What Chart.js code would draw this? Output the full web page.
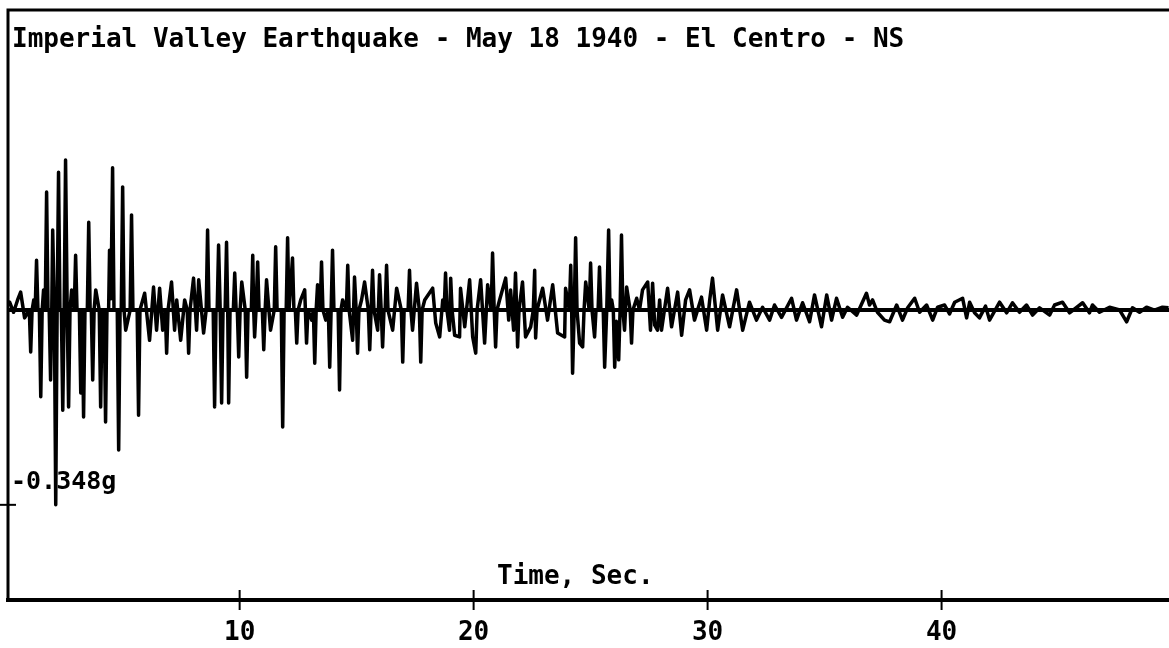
<!DOCTYPE html>
<html>
<head>
<meta charset="utf-8">
<script src="https://cdn.jsdelivr.net/npm/chart.js@4/dist/chart.umd.min.js"></script>
<style>
  html, body { margin: 0; padding: 0; background: #fff; }
  #wrap { width: 1169px; height: 648px; }
</style>
</head>
<body>
<div id="wrap"><canvas id="quake" width="1169" height="648"></canvas></div>
<script>
// Başlık ve eksen yazıları
const chartTitle = "Imperial Valley Earthquake - May 18 1940 - El Centro - NS";
const xAxisTitle = "Time, Sec.";
const xTickValues = [10, 20, 30, 40];
const yMarkValue = -0.348;
const yMarkLabel = "-0.348g";

// Zaman (s) - resimden okunan tepe noktaları ve sıfıra dönüşler
const timeSec = [
  0.00, 0.17, 0.34, 0.51, 0.64, 0.81, 1.01, 1.07,
  1.13, 1.20, 1.26, 1.32, 1.38, 1.44, 1.50, 1.56,
  1.62, 1.69, 1.75, 1.81, 1.86, 1.92, 1.97, 2.01,
  2.08, 2.14, 2.20, 2.26, 2.32, 2.38, 2.44, 2.50,
  2.56, 2.63, 2.69, 2.75, 2.82, 2.93, 2.99, 3.05,
  3.15, 3.21, 3.27, 3.33, 3.39, 3.49, 3.55, 3.61,
  3.66, 3.72, 3.78, 3.85, 4.00, 4.06, 4.12, 4.21,
  4.27, 4.33, 4.40, 4.44, 4.50, 4.57, 4.63, 4.77,
  4.83, 4.89, 4.94, 5.00, 5.06, 5.13, 5.32, 5.38,
  5.44, 5.62, 5.68, 5.74, 5.94, 6.15, 6.32, 6.45,
  6.58, 6.71, 6.82, 6.88, 6.94, 7.09, 7.22, 7.31,
  7.48, 7.65, 7.76, 7.82, 7.88, 8.03, 8.16, 8.25,
  8.46, 8.57, 8.63, 8.69, 8.87, 8.93, 8.99, 9.04,
  9.10, 9.17, 9.23, 9.29, 9.38, 9.44, 9.49, 9.53,
  9.59, 9.73, 9.79, 9.85, 9.90, 9.96, 10.02, 10.09,
  10.24, 10.30, 10.36, 10.50, 10.56, 10.60, 10.64, 10.70,
  10.77, 10.83, 10.97, 11.03, 11.09, 11.15, 11.32, 11.48,
  11.54, 11.60, 11.78, 11.84, 11.90, 11.99, 12.05, 12.11,
  12.26, 12.32, 12.38, 12.44, 12.50, 12.61, 12.78, 12.86,
  12.92, 13.08, 13.15, 13.21, 13.27, 13.33, 13.44, 13.50,
  13.56, 13.68, 13.79, 13.85, 13.91, 13.97, 14.03, 14.21,
  14.27, 14.33, 14.40, 14.56, 14.62, 14.68, 14.83, 14.87,
  14.91, 14.98, 15.04, 15.10, 15.21, 15.34, 15.50, 15.56,
  15.62, 15.68, 15.74, 15.90, 15.98, 16.05, 16.11, 16.17,
  16.22, 16.28, 16.34, 16.54, 16.71, 16.91, 16.97, 17.03,
  17.20, 17.26, 17.32, 17.39, 17.56, 17.68, 17.74, 17.80,
  17.91, 18.25, 18.38, 18.55, 18.68, 18.74, 18.80, 18.86,
  18.97, 19.02, 19.08, 19.19, 19.40, 19.44, 19.62, 19.83,
  19.96, 20.09, 20.15, 20.30, 20.47, 20.60, 20.75, 20.81,
  20.88, 20.94, 21.00, 21.11, 21.37, 21.50, 21.58, 21.71,
  21.79, 21.84, 21.88, 21.94, 22.09, 22.22, 22.44, 22.55,
  22.61, 22.63, 22.65, 22.71, 22.95, 23.16, 23.38, 23.59,
  23.89, 23.93, 24.09, 24.15, 24.19, 24.23, 24.30, 24.36,
  24.42, 24.53, 24.66, 24.72, 24.79, 24.94, 25.00, 25.06,
  25.17, 25.23, 25.32, 25.38, 25.44, 25.54, 25.60, 25.69,
  25.77, 25.83, 25.90, 25.97, 26.03, 26.10, 26.20, 26.26,
  26.32, 26.38, 26.45, 26.54, 26.69, 26.75, 26.81, 26.97,
  27.09, 27.22, 27.44, 27.56, 27.65, 27.74, 27.86, 27.95,
  28.03, 28.29, 28.46, 28.72, 28.89, 29.06, 29.23, 29.44,
  29.74, 29.96, 30.09, 30.21, 30.43, 30.64, 30.94, 31.24,
  31.50, 31.79, 32.09, 32.35, 32.65, 32.86, 33.16, 33.59,
  33.80, 34.06, 34.36, 34.57, 34.87, 35.09, 35.30, 35.51,
  35.77, 35.98, 36.37, 36.79, 36.92, 37.05, 37.26, 37.56,
  37.78, 38.08, 38.33, 38.55, 38.85, 39.06, 39.36, 39.62,
  39.83, 40.13, 40.34, 40.56, 40.90, 41.07, 41.20, 41.41,
  41.62, 41.88, 42.05, 42.48, 42.78, 43.03, 43.33, 43.63,
  43.89, 44.19, 44.62, 44.83, 45.17, 45.47, 46.03, 46.32,
  46.45, 46.75, 47.18, 47.61, 47.91, 48.16, 48.46, 48.76,
  49.10, 49.44, 49.70
];

// İvme (g) - her satır yukarıdaki zaman satırıyla eşleşir
const accelG = [
  0.004, 0.014, -0.004, 0.018, 0.032, -0.014, 0, -0.075,
  0, 0.018, 0, 0.089, 0, 0, -0.155, 0,
  0.036, 0, 0.211, 0, 0, -0.125, 0, 0.143,
  0, -0.348, 0, 0.246, 0, 0, -0.179, 0,
  0.268, 0, -0.173, 0, 0.036, 0, 0.098, 0,
  0, -0.148, 0, -0.191, 0, 0, 0.157, 0,
  0, -0.125, 0, 0.036, 0, -0.173, 0, 0,
  -0.200, 0, 0, 0.107, 0.020, 0.254, 0, 0,
  -0.250, 0, 0, 0.220, 0, -0.036, 0, 0.170,
  0, 0, -0.188, 0, 0.030, -0.054, 0.041, -0.036,
  0.039, -0.036, 0, -0.077, 0, 0.050, -0.036, 0.018,
  -0.054, 0.018, 0, -0.077, 0, 0.057, -0.036, 0.054,
  -0.041, 0, 0.143, 0, 0, -0.173, 0, 0,
  0.116, 0, -0.166, 0, 0, 0.121, 0, -0.166,
  0, 0, 0.066, 0, 0, -0.084, 0, 0.050,
  0, -0.120, 0, 0, 0.098, 0, -0.048, 0,
  0.086, 0, 0, -0.071, 0, 0.054, -0.036, 0,
  0.113, 0, 0, -0.209, 0, 0, 0.129, 0,
  0.093, 0, 0, -0.059, 0, 0.018, 0.036, -0.059,
  0, -0.018, 0, -0.095, 0, 0.045, 0, 0.086,
  0, -0.018, 0, -0.102, 0, 0.107, 0, 0,
  -0.143, 0, 0.018, 0, 0.080, 0, -0.054, 0,
  0.059, 0, -0.077, 0, 0.018, 0.050, 0, -0.071,
  0, 0.071, 0, -0.036, 0.063, 0, -0.066, 0,
  0, 0.080, 0, -0.036, 0.039, 0, -0.093, 0,
  0, 0.071, 0, -0.036, 0.048, 0, -0.093, 0,
  0.018, 0.039, -0.023, -0.048, 0.018, 0, 0.066, 0,
  -0.036, 0.057, 0, -0.045, -0.048, 0.039, -0.030, 0.054,
  -0.048, -0.077, 0, 0.054, -0.059, 0.045, 0, 0.102,
  0, -0.066, 0, 0.018, 0.057, -0.018, 0.036, -0.036,
  0.066, 0, -0.066, 0, 0.050, -0.048, -0.030, 0,
  0.071, 0, -0.050, 0, 0.039, -0.018, 0.045, -0.041,
  -0.048, 0.039, 0, 0.080, 0, -0.113, 0, 0.129,
  0, -0.059, -0.066, 0, 0.050, 0, 0.084, 0,
  -0.048, 0, 0, 0.077, 0, 0, -0.102, 0,
  0.143, 0, 0.018, 0, -0.102, -0.020, -0.089, 0,
  0.134, 0, -0.036, 0.041, 0, -0.059, 0, 0.021,
  0.000, 0.036, 0.050, -0.036, 0.048, -0.027, -0.036, 0.018,
  -0.036, 0.039, -0.030, 0.032, -0.045, 0.018, 0.036, -0.018,
  0.023, -0.036, 0.018, 0.057, -0.036, 0.027, -0.030, 0.036,
  -0.036, 0.014, -0.018, 0.005, -0.018, 0.009, -0.013, 0.021,
  -0.018, 0.013, -0.021, 0.027, -0.030, 0.027, -0.018, 0.021,
  -0.013, 0.005, -0.009, 0.030, 0.009, 0.018, -0.004, -0.018,
  -0.021, 0.009, -0.018, 0.004, 0.021, -0.004, 0.009, -0.018,
  0.005, 0.009, -0.007, 0.014, 0.021, -0.014, 0.014, -0.005,
  -0.014, 0.007, -0.018, 0.014, -0.005, 0.013, -0.004, 0.009,
  -0.009, 0.004, -0.009, 0.009, 0.014, -0.005, 0.013, -0.005,
  0.009, -0.004, 0.005, 0.000, -0.021, 0.004, -0.004, 0.005,
  0.000, 0.005, 0.004
];

const FONT = '"DejaVu Sans Mono", "Liberation Mono", monospace';

// Çerçeve, sıfır çizgisi, işaretler ve yazılar için eklenti
const framePlugin = {
  id: 'frame',
  beforeDatasetsDraw(chart) {
    const { ctx, chartArea, scales } = chart;
    const y0 = scales.y.getPixelForValue(0);
    ctx.save();
    ctx.strokeStyle = '#000';
    ctx.lineWidth = 4;
    ctx.beginPath();
    ctx.moveTo(chartArea.left, y0);
    ctx.lineTo(chartArea.right, y0);
    ctx.stroke();
    ctx.restore();
  },
  afterDraw(chart) {
    const { ctx, chartArea, scales } = chart;
    const a = chartArea;
    ctx.save();
    ctx.strokeStyle = '#000';
    ctx.fillStyle = '#000';

    // üst ve sol kenar
    ctx.lineWidth = 3;
    ctx.beginPath();
    ctx.moveTo(chart.width, a.top);
    ctx.lineTo(a.left, a.top);
    ctx.lineTo(a.left, a.bottom);
    ctx.stroke();

    // alt eksen
    ctx.lineWidth = 4;
    ctx.beginPath();
    ctx.moveTo(a.left - 2, a.bottom);
    ctx.lineTo(chart.width, a.bottom);
    ctx.stroke();

    // x işaretleri
    ctx.lineWidth = 2;
    ctx.font = 'bold 26px ' + FONT;
    ctx.textAlign = 'center';
    ctx.textBaseline = 'alphabetic';
    xTickValues.forEach(v => {
      const px = scales.x.getPixelForValue(v);
      ctx.beginPath();
      ctx.moveTo(px, a.bottom - 10);
      ctx.lineTo(px, a.bottom + 10);
      ctx.stroke();
      ctx.fillText(String(v), px, a.bottom + 40);
    });

    // y işareti
    const py = scales.y.getPixelForValue(yMarkValue);
    ctx.beginPath();
    ctx.moveTo(0, py);
    ctx.lineTo(a.left + 8, py);
    ctx.stroke();
    ctx.font = 'bold 25px ' + FONT;
    ctx.textAlign = 'left';
    ctx.fillText(yMarkLabel, a.left + 3, py - 16);

    // başlık ve eksen adı
    ctx.font = 'bold 26px ' + FONT;
    ctx.fillText(chartTitle, a.left + 4, 47);
    ctx.fillText(xAxisTitle, 497, 584);
    ctx.restore();
  }
};

new Chart(document.getElementById('quake').getContext('2d'), {
  type: 'line',
  data: {
    datasets: [{
      data: timeSec.map((t, i) => ({ x: t, y: accelG[i] })),
      borderColor: '#000',
      borderWidth: 3.5,
      borderJoinStyle: 'round',
      pointRadius: 0,
      tension: 0,
      fill: false
    }]
  },
  options: {
    responsive: false,
    animation: false,
    devicePixelRatio: 1,
    layout: { padding: { left: 8, top: 10, right: 0, bottom: 48 } },
    plugins: { legend: { display: false }, tooltip: { enabled: false } },
    scales: {
      x: { type: 'linear', min: 0.1, max: 49.72, display: false },
      y: { type: 'linear', min: -0.518, max: 0.536, display: false }
    }
  },
  plugins: [framePlugin]
});
</script>
</body>
</html>
